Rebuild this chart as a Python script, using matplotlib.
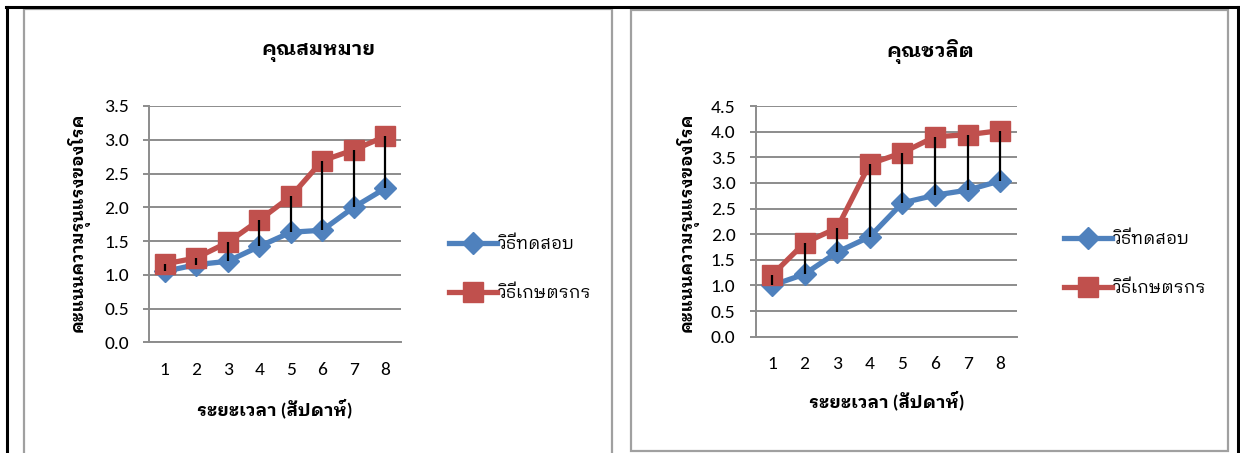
import matplotlib
matplotlib.use('Agg')
import matplotlib.pyplot as plt
from matplotlib.patches import Rectangle
from matplotlib.lines import Line2D

plt.rcParams['font.family'] = ['Carlito', 'IBM Plex Sans Thai Looped']

weeks = [1, 2, 3, 4, 5, 6, 7, 8]
series_names = ['วิธีทดสอบ', 'วิธีเกษตรกร']

# คุณสมหมาย
test_a = [1.05, 1.15, 1.20, 1.42, 1.63, 1.66, 2.00, 2.28]
farmer_a = [1.16, 1.25, 1.48, 1.81, 2.16, 2.69, 2.85, 3.05]

# คุณชวลิต
test_b = [1.00, 1.22, 1.65, 1.95, 2.61, 2.76, 2.86, 3.04]
farmer_b = [1.20, 1.83, 2.12, 3.37, 3.59, 3.90, 3.94, 4.02]

titles = ['คุณสมหมาย', 'คุณชวลิต']
ylabel = 'คะแนนความรุนแรงของโรค'
xlabel = 'ระยะเวลา (สัปดาห์)'
ymax = [3.5, 4.5]

W, H = 1240, 453
BLUE = '#4F81BD'
RED = '#C0504D'
GRID = '#8c8c8c'

fig = plt.figure(figsize=(W / 100, H / 100), dpi=100)


def px(x0, y0, x1, y1):
    # pixel box (top-left origin) -> figure fraction rect
    return [x0 / W, 1 - y1 / H, (x1 - x0) / W, (y1 - y0) / H]


# outer page border and chart frames
fig.add_artist(Line2D([6 / W, 1239 / W], [1 - 7 / H] * 2, color='black', lw=2.2))
fig.add_artist(Line2D([7 / W] * 2, [0, 1 - 7 / H], color='black', lw=2.2))
fig.add_artist(Line2D([1238 / W] * 2, [0, 1 - 7 / H], color='black', lw=2.2))
fig.add_artist(Rectangle((24 / W, -0.1), (612 - 24) / W, 0.1 + 1 - 9.5 / H,
                         transform=fig.transFigure, fill=False, ec='#a0a0a0', lw=1.6))
fig.add_artist(Rectangle((631 / W, 1 - 451 / H), (1228 - 631) / W, (451 - 9.5) / H,
                         transform=fig.transFigure, fill=False, ec='#a0a0a0', lw=1.6))

boxes = [px(149, 106, 401, 342.3), px(755.6, 106, 1016.6, 336.7)]
title_pos = [(318, 52), (930, 52)]
ylab_pos = [(78, 222), (687, 222)]
xlab_pos = [(275, 408), (887, 400)]
leg_pos = [(440, 268), (1055, 263)]
data = [(test_a, farmer_a), (test_b, farmer_b)]

for k in range(2):
    ax = fig.add_axes(boxes[k])
    test, farmer = data[k]
    ax.plot(weeks, test, color=BLUE, lw=3.8, marker='D', ms=11,
            mec=BLUE, mfc=BLUE, label=series_names[0], zorder=3)
    ax.plot(weeks, farmer, color=RED, lw=3.8, marker='s', ms=14,
            mec=RED, mfc=RED, label=series_names[1], zorder=4)
    # high-low lines between the two series
    ax.vlines(weeks, test, farmer, color='black', lw=1.6, zorder=5)

    ax.set_xlim(0.5, 8.5)
    ax.set_ylim(0, ymax[k])
    yt = [i * 0.5 for i in range(int(ymax[k] / 0.5) + 1)]
    ax.set_yticks(yt)
    ax.set_yticklabels(['%.1f' % v for v in yt])
    ax.set_xticks(weeks)
    ax.grid(axis='y', color=GRID, lw=1.4)
    ax.set_axisbelow(True)
    for s in ['top', 'right']:
        ax.spines[s].set_visible(False)
    for s in ['left', 'bottom']:
        ax.spines[s].set_color(GRID)
        ax.spines[s].set_linewidth(1.4)
    ax.tick_params(axis='y', length=4.5, width=1.4, color=GRID, pad=10, labelsize=14)
    ax.tick_params(axis='x', length=0, pad=14, labelsize=14)

    fig.text(title_pos[k][0] / W, 1 - title_pos[k][1] / H, titles[k],
             ha='center', va='center', fontsize=14.5, fontweight='bold')
    fig.text(ylab_pos[k][0] / W, 1 - ylab_pos[k][1] / H, ylabel, rotation=90,
             ha='center', va='center', fontsize=12.5, fontweight='bold')
    fig.text(xlab_pos[k][0] / W, 1 - xlab_pos[k][1] / H, xlabel,
             ha='center', va='center', fontsize=13, fontweight='bold')
    ax.legend(loc='center left', bbox_to_anchor=(leg_pos[k][0] / W, 1 - leg_pos[k][1] / H),
              bbox_transform=fig.transFigure, frameon=False, fontsize=12.5,
              handlelength=2.8, handletextpad=0.05, labelspacing=1.85, borderpad=0)

fig.savefig('out.png', dpi=100)
